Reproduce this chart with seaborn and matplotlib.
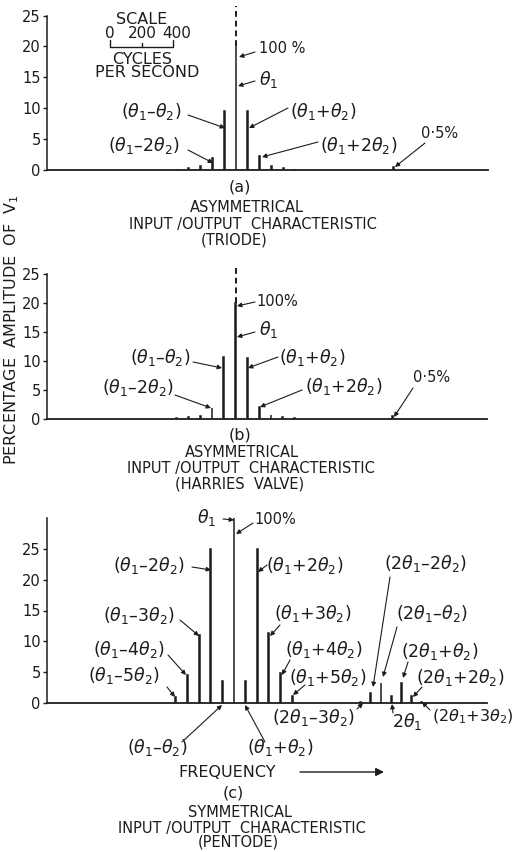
import numpy as np
import pandas as pd
import matplotlib
matplotlib.use("Agg")
import matplotlib.pyplot as plt
import seaborn as sns

# Spectral lines: frequency (cycles per second) and amplitude (% of V1)
triode_freq = [825, 900, 975, 1050, 1125, 1200, 1275, 1350, 1425, 1500, 1575, 2200]
triode_amp = [0.2, 0.3, 0.6, 2.0, 9.5, 100, 9.5, 2.2, 0.6, 0.3, 0.2, 0.5]

harries_freq = [825, 900, 975, 1050, 1125, 1200, 1275, 1350, 1425, 1500, 1575, 2200]
harries_amp = [0.2, 0.4, 0.6, 1.9, 10.7, 100, 10.5, 2.1, 0.7, 0.35, 0.2, 0.5]

pentode_freq = [820, 894, 968, 1042, 1116, 1190, 1264, 1338, 1412, 1486, 1560,
                1995, 2060, 2125, 2190, 2255, 2320, 2385]
pentode_amp = [1.0, 4.5, 11.0, 25.0, 3.5, 100, 3.5, 25.0, 11.3, 4.8, 1.1,
               0.2, 1.7, 3.3, 1.2, 3.3, 1.2, 0.2]

y_ticks = [0, 5, 10, 15, 20, 25]
scale_ticks = [0, 200, 400]          # cycles per second on the scale bar
scale_origin = 400                   # where the scale bar starts on the frequency axis

INK = "#1c1c1c"
W, H = 512, 852
LINE_CS = 5.0                        # fill width of a spectral line, c/s (plus edge)
FMAX = 2800
LBL = 12.5                           # size of the component labels
CAP = 10.5                           # size of the panel captions

sns.set_theme(style="white")
plt.rcParams.update({
    "font.family": ["DejaVu Sans"],
    "mathtext.fontset": "custom",
    "mathtext.rm": "DejaVu Sans",
    "mathtext.it": "DejaVu Sans:italic",
    "mathtext.bf": "DejaVu Sans:bold",
    "text.color": INK,
    "axes.edgecolor": INK,
    "xtick.color": INK,
    "ytick.color": INK,
})

fig = plt.figure(figsize=(W / 100, H / 100), dpi=100)
fig.patch.set_facecolor("white")


def frac(x, y):
    return (x / W, 1 - y / H)


def axes_at(left, top, right, bottom):
    return fig.add_axes([left / W, 1 - bottom / H, (right - left) / W, (bottom - top) / H])


def spectrum(ax, freq, amp, ymax, break_at=None, dash_top=None):
    amp = np.asarray(amp, float)
    shown = amp if break_at is None else np.minimum(amp, break_at)
    df = pd.DataFrame({"freq": freq, "amp": shown})
    spacing = np.min(np.diff(np.sort(freq)))
    sns.barplot(data=df, x="freq", y="amp", native_scale=True,
                width=LINE_CS / spacing, color=INK, saturation=1,
                errorbar=None, linewidth=1.1, edgecolor=INK, ax=ax)
    if break_at is not None:
        over = np.asarray(freq)[amp > break_at]
        ax.vlines(over, break_at, dash_top, colors=INK,
                  linestyles=(0, (3, 2)), lw=1.4, clip_on=False)
    ax.set_xlim(0, FMAX)
    ax.set_ylim(0, ymax)
    ax.set_yticks(y_ticks)
    ax.set_xticks([])
    ax.set_xlabel("")
    ax.set_ylabel("")
    ax.set_facecolor("none")
    for side in ("top", "right"):
        ax.spines[side].set_visible(False)
    ax.spines["left"].set_linewidth(1.1)
    ax.spines["bottom"].set_linewidth(1.3)
    ax.tick_params(axis="y", direction="out", length=3, width=1,
                   labelsize=10.5, pad=1.5, left=True)


def text(s, x, y, size=CAP, ha="center", **kw):
    fig.text(*frac(x, y), s, ha=ha, va="center", fontsize=size, color=INK, **kw)


def arrow(tail, tip, head=6.5, lw=0.8):
    fig.axes[0].annotate("", xy=frac(*tip), xycoords="figure fraction",
                         xytext=frac(*tail), textcoords="figure fraction",
                         annotation_clip=False,
                         arrowprops=dict(arrowstyle="-|>", lw=lw, color=INK,
                                         mutation_scale=head, shrinkA=0, shrinkB=0))


def label(s, pos, tail=None, tip=None, size=LBL, **kw):
    text(s, *pos, size=size, **kw)
    if tip is not None:
        arrow(tail, tip)


# ---- (a) triode ----
ax_a = axes_at(47, 15.5, 488, 170)
spectrum(ax_a, triode_freq, triode_amp, 25, break_at=20, dash_top=26.5)

# frequency scale bar, drawn on the data axis
sb_y, sb_h = 19.9, 1.1
s0, s1 = scale_origin + scale_ticks[0], scale_origin + scale_ticks[-1]
ax_a.plot([s0, s0, s1, s1], [sb_y + sb_h, sb_y, sb_y, sb_y + sb_h], color=INK, lw=1)
ax_a.plot([scale_origin + scale_ticks[1]] * 2, [sb_y, sb_y + 0.6], color=INK, lw=1)
text("SCALE", 142, 19, size=11.5)
for t, xpx in zip(scale_ticks, [110, 142, 177]):
    text(str(t), xpx, 34, size=11)
text("CYCLES", 142, 59, size=11.5)
text("PER SECOND", 147, 72.5, size=11.5)

label("100 %", (282, 48.5), (255, 52), (239, 57), size=10.5)
label(r"$\theta_1$", (269, 80), (255, 81), (238, 86))
label(r"($\theta_1$–$\theta_2$)", (151, 112), (188, 115), (225, 128))
label(r"($\theta_1$–2$\theta_2$)", (144, 145), (188, 150), (213, 163))
label(r"($\theta_1$+$\theta_2$)", (323, 112), (288, 108), (249, 128))
label(r"($\theta_1$+2$\theta_2$)", (359, 145), (318, 142), (262, 157))
label("0·5%", (440, 134), (425, 143), (395, 167), size=10.5)

text("(a)", 240, 187, size=11.5)
text("ASYMMETRICAL", 247, 207)
text("INPUT /OUTPUT  CHARACTERISTIC", 253, 224)
text("(TRIODE)", 234, 240)

# ---- (b) Harries valve ----
ax_b = axes_at(47, 274, 487, 419)
spectrum(ax_b, harries_freq, harries_amp, 25, break_at=20, dash_top=26.2)

label("100%", (277, 301), (255, 302), (237, 306), size=10.5)
label(r"$\theta_1$", (269, 330), (255, 332), (237, 337))
label(r"($\theta_1$–$\theta_2$)", (160, 358), (193, 362), (222, 368))
label(r"($\theta_1$–2$\theta_2$)", (138, 388), (175, 395), (211, 408))
label(r"($\theta_1$+$\theta_2$)", (312, 357), (278, 357), (248, 368))
label(r"($\theta_1$+2$\theta_2$)", (344, 387), (302, 390), (260, 407))
label("0·5%", (432, 377), (413, 388), (394, 417), size=10.5)

text("(b)", 240, 435, size=11.5)
text("ASYMMETRICAL", 242, 453)
text("INPUT /OUTPUT  CHARACTERISTIC", 251, 468)
text("(HARRIES  VALVE)", 240, 484)

# ---- (c) pentode ----
ax_c = axes_at(47, 518, 487, 703)
spectrum(ax_c, pentode_freq, pentode_amp, 30)

label(r"$\theta_1$", (207, 518), (223, 519), (234, 520))
label("100%", (275, 519), (253, 523), (236, 534), size=10.5)
label(r"($\theta_1$–2$\theta_2$)", (149, 565), (192, 567), (211, 570))
label(r"($\theta_1$+2$\theta_2$)", (305, 565), (267, 565), (258, 572))
label(r"($\theta_1$–3$\theta_2$)", (139, 616), (180, 620), (199, 636))
label(r"($\theta_1$+3$\theta_2$)", (313, 614), (280, 625), (270, 636))
label(r"($\theta_1$–4$\theta_2$)", (129, 650), (168, 655), (186, 675))
label(r"($\theta_1$+4$\theta_2$)", (324, 650), (290, 660), (282, 675))
label(r"($\theta_1$–5$\theta_2$)", (124, 675), (167, 687), (175, 697))
label(r"($\theta_1$+5$\theta_2$)", (328, 678), (305, 685), (293, 695))
label(r"(2$\theta_1$–2$\theta_2$)", (425, 563), (390, 577), (373, 687))
label(r"(2$\theta_1$–$\theta_2$)", (432, 614), (397, 627), (383, 677))
label(r"(2$\theta_1$+$\theta_2$)", (440, 651), (408, 662), (403, 678))
label(r"(2$\theta_1$+2$\theta_2$)", (460, 678), (422, 687), (413, 697))
label(r"(2$\theta_1$–3$\theta_2$)", (313, 717), (357, 709), (363, 703))
label(r"2$\theta_1$", (407, 722), (393, 713), (392, 704))
label(r"(2$\theta_1$+3$\theta_2$)", (432, 717), (430, 710), (422, 702), ha="left", size=11.5)
label(r"($\theta_1$–$\theta_2$)", (157, 748), (182, 742), (222, 705))
label(r"($\theta_1$+$\theta_2$)", (280, 748), (265, 742), (245, 705))

text("FREQUENCY", 227, 772.5, size=11.5)
arrow((300, 772), (384, 772), head=12, lw=1)
text("(c)", 233, 793, size=11.5)
text("SYMMETRICAL", 240, 812.5)
text("INPUT /OUTPUT  CHARACTERISTIC", 242, 828)
text("(PENTODE)", 238, 842)

# shared y-axis title
fig.text(*frac(12, 330), r"PERCENTAGE  AMPLITUDE  OF  V$_1$", rotation=90,
         ha="center", va="center", fontsize=11.5, color=INK)

fig.savefig("out.png", dpi=100, facecolor="white")
